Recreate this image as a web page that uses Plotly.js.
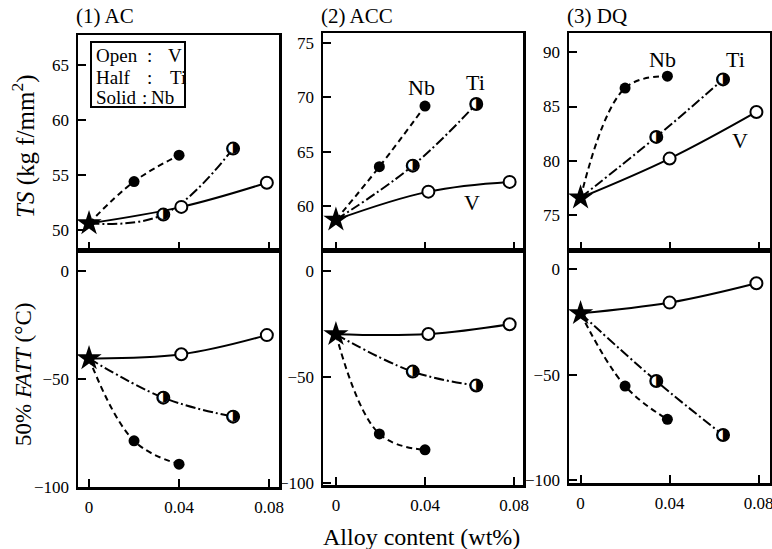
<!DOCTYPE html>
<html><head><meta charset="utf-8">
<script src="https://cdn.plot.ly/plotly-3.0.1.min.js"></script>
<style>html,body{margin:0;padding:0;background:#fff}#chart{width:772px;height:549px}</style>
</head><body><div id="chart"></div>
<script>
// ---- data ----
const processes = ["(1) AC", "(2) ACC", "(3) DQ"];
const alloys = ["V", "Ti", "Nb"];

// alloy content (wt%), first point = base steel
const xAC_V  = [0, 0.041, 0.079];
const xAC_Ti = [0, 0.033, 0.064];
const xAC_Nb = [0, 0.020, 0.040];
const xACC_V  = [0, 0.0415, 0.078];
const xACC_Ti = [0, 0.0345, 0.063];
const xACC_Nb = [0, 0.0195, 0.040];
const xDQ_V  = [0, 0.040, 0.079];
const xDQ_Ti = [0, 0.034, 0.064];
const xDQ_Nb = [0, 0.020, 0.039];

// TS (kgf/mm2)
const tsAC_V  = [50.6, 52.1, 54.3];
const tsAC_Ti = [50.6, 51.4, 57.4];
const tsAC_Nb = [50.6, 54.4, 56.8];
const tsACC_V  = [58.7, 61.3, 62.2];
const tsACC_Ti = [58.7, 63.7, 69.4];
const tsACC_Nb = [58.7, 63.6, 69.2];
const tsDQ_V  = [76.6, 80.2, 84.5];
const tsDQ_Ti = [76.6, 82.2, 87.5];
const tsDQ_Nb = [76.6, 86.7, 87.8];

// 50% FATT (°C)
const fattAC_V  = [-40.5, -38.6, -29.7];
const fattAC_Ti = [-40.5, -58.7, -67.5];
const fattAC_Nb = [-40.5, -78.7, -89.5];
const fattACC_V  = [-30.0, -29.9, -25.3];
const fattACC_Ti = [-30.0, -47.6, -54.2];
const fattACC_Nb = [-30.0, -77.0, -84.5];
const fattDQ_V  = [-20.9, -15.8, -6.6];
const fattDQ_Ti = [-20.9, -53.0, -78.6];
const fattDQ_Nb = [-20.9, -55.4, -71.2];

// tick labels
const xTickVals = [0, 0.04, 0.08];
const xTickText = ["0", "0.04", "0.08"];
const tsTicks = [[50, 55, 60, 65], [60, 65, 70, 75], [75, 80, 85, 90]];
const fattTicks = [0, -50, -100];
const fattTickText = ["0", "\u221250", "\u2212100"];

// legend key text
const keyWords = ["Open", "Half", "Solid"];
const keyAlloys = ["V", "Ti", "Nb"];

// ---- assemble ----
const X = [
  {V: xAC_V, Ti: xAC_Ti, Nb: xAC_Nb},
  {V: xACC_V, Ti: xACC_Ti, Nb: xACC_Nb},
  {V: xDQ_V, Ti: xDQ_Ti, Nb: xDQ_Nb}
];
const TS = [
  {V: tsAC_V, Ti: tsAC_Ti, Nb: tsAC_Nb},
  {V: tsACC_V, Ti: tsACC_Ti, Nb: tsACC_Nb},
  {V: tsDQ_V, Ti: tsDQ_Ti, Nb: tsDQ_Nb}
];
const FATT = [
  {V: fattAC_V, Ti: fattAC_Ti, Nb: fattAC_Nb},
  {V: fattACC_V, Ti: fattACC_Ti, Nb: fattACC_Nb},
  {V: fattDQ_V, Ti: fattDQ_Ti, Nb: fattDQ_Nb}
];

const W = 772, H = 549;
const FONT = "Liberation Serif, Times New Roman, DejaVu Serif, serif";
const dashes = {V: "solid", Ti: "10px,3px,2px,3px", Nb: "6px,4px"};

// layout geometry (px)
const colX = [[78, 279], [323, 523], [569, 770]];
const topY = [[35, 250], [33, 250], [33, 250]];
const botY = [[250, 487], [250, 485], [250, 483]];
const xRanges = [[-0.0049, 0.0844], [-0.0058, 0.084], [-0.0052, 0.0851]];
const tsRanges = [[48.18, 67.73], [55.91, 75.95], [71.77, 91.78]];
const fattRanges = [[-100.1, 9.74], [-101.1, 9.76], [-101.4, 9.16]];

const traces = [];
const layout = {
  width: W, height: H, margin: {l: 0, r: 0, t: 0, b: 0},
  paper_bgcolor: "#fff", plot_bgcolor: "#fff", showlegend: false,
  font: {family: FONT, color: "#000"},
  annotations: [], shapes: []
};

function axBase() {
  return {showline: true, mirror: true, linecolor: "#000", linewidth: 2.5,
    ticks: "inside", ticklen: 8, tickwidth: 2, tickcolor: "#000",
    showgrid: false, zeroline: false, fixedrange: true, ticklabeloverflow: "allow",
    tickfont: {family: FONT, size: 17, color: "#000"}};
}

function addSeries(xa, ya, x, y) {
  alloys.forEach(a => {
    traces.push({x: x[a], y: y[a], xaxis: xa, yaxis: ya, mode: "lines", hoverinfo: "skip",
      line: {color: "#000", width: 2, dash: dashes[a], shape: "spline", smoothing: 1.1}});
  });
  const xs = a => x[a].slice(1), ys = a => y[a].slice(1);
  traces.push({x: xs("V"), y: ys("V"), xaxis: xa, yaxis: ya, mode: "markers",
    marker: {symbol: "circle", size: 12, color: "#fff", line: {color: "#000", width: 2}}});
  traces.push({x: xs("Nb"), y: ys("Nb"), xaxis: xa, yaxis: ya, mode: "markers",
    marker: {symbol: "circle", size: 11, color: "#000"}});
  traces.push({x: xs("Ti"), y: ys("Ti"), xaxis: xa, yaxis: ya, mode: "markers",
    marker: {symbol: "circle", size: 12, color: "#fff", line: {color: "#000", width: 2}}});
  traces.push({x: xs("Ti"), y: ys("Ti"), xaxis: xa, yaxis: ya, mode: "text",
    text: xs("Ti").map(() => "\u25D1"), textposition: "middle center",
    textfont: {family: "DejaVu Sans", size: 15, color: "#000"}});
  traces.push({x: [x.V[0]], y: [y.V[0]], xaxis: xa, yaxis: ya, mode: "markers",
    marker: {symbol: "star", size: 19, color: "#000"}});
}

for (let i = 0; i < 3; i++) {
  const tIdx = i + 1, bIdx = i + 4;
  const tx = tIdx === 1 ? "x" : "x" + tIdx, ty = tIdx === 1 ? "y" : "y" + tIdx;
  const bx = "x" + bIdx, by = "y" + bIdx;
  const xd = [colX[i][0] / W, colX[i][1] / W];
  layout["xaxis" + (tIdx === 1 ? "" : tIdx)] = Object.assign(axBase(), {
    domain: xd, anchor: ty, range: xRanges[i], tickvals: xTickVals, showticklabels: false});
  layout["yaxis" + (tIdx === 1 ? "" : tIdx)] = Object.assign(axBase(), {
    domain: [1 - topY[i][1] / H, 1 - topY[i][0] / H], anchor: tx, range: tsRanges[i],
    tickvals: tsTicks[i], ticklabelstandoff: 3});
  layout["xaxis" + bIdx] = Object.assign(axBase(), {
    domain: xd, anchor: by, range: xRanges[i], tickvals: xTickVals, ticktext: xTickText,
    ticklabelstandoff: 3});
  layout["yaxis" + bIdx] = Object.assign(axBase(), {
    domain: [1 - botY[i][1] / H, 1 - botY[i][0] / H], anchor: bx, range: fattRanges[i],
    tickvals: fattTicks, ticktext: fattTickText, ticklabelstandoff: 3});
  addSeries(tx, ty, X[i], TS[i]);
  addSeries(bx, by, X[i], FATT[i]);
  layout.annotations.push({text: processes[i], xref: "paper", yref: "paper",
    x: (colX[i][0] - 4) / W, y: 1 - 16 / H, xanchor: "left", yanchor: "middle",
    showarrow: false, font: {family: FONT, size: 21, color: "#000"}});
}

const lbl = (t, xr, yr, x, y) => ({text: t, xref: xr, yref: yr, x: x, y: y, showarrow: false,
  xanchor: "center", yanchor: "middle", font: {family: FONT, size: 22, color: "#000"}});
layout.annotations.push(lbl("Nb", "x2", "y2", 0.0383, 70.9));
layout.annotations.push(lbl("Ti", "x2", "y2", 0.0628, 71.4));
layout.annotations.push(lbl("V", "x2", "y2", 0.0611, 60.25));
layout.annotations.push(lbl("Nb", "x3", "y3", 0.0369, 89.3));
layout.annotations.push(lbl("Ti", "x3", "y3", 0.0697, 89.3));
layout.annotations.push(lbl("V", "x3", "y3", 0.0714, 81.9));

// legend key box (panel 1)
layout.shapes.push({type: "rect", xref: "paper", yref: "paper",
  x0: 91 / W, x1: 185 / W, y0: 1 - 107 / H, y1: 1 - 42 / H,
  line: {color: "#000", width: 2}, fillcolor: "#fff", layer: "above"});
const keyRowY = [56, 77, 97];
const keyColonX = [149, 149, 144];
const keyValX = [166, 168, 149];
for (let k = 0; k < 3; k++) {
  const yy = 1 - keyRowY[k] / H;
  const f = {family: FONT, size: 19, color: "#000"};
  layout.annotations.push({text: keyWords[k], xref: "paper", yref: "paper", x: 94 / W, y: yy,
    xanchor: "left", yanchor: "middle", showarrow: false, font: f});
  layout.annotations.push({text: ":", xref: "paper", yref: "paper", x: keyColonX[k] / W, y: yy,
    xanchor: "center", yanchor: "middle", showarrow: false, font: f});
  layout.annotations.push({text: keyAlloys[k], xref: "paper", yref: "paper", x: keyValX[k] / W, y: yy,
    xanchor: "left", yanchor: "middle", showarrow: false, font: f});
}

layout.annotations.push({text: "<i>TS</i> (kg f/mm<sup>2</sup>)", xref: "paper", yref: "paper",
  x: 23 / W, y: 1 - 147 / H, textangle: -90, showarrow: false, xanchor: "center", yanchor: "middle",
  font: {family: FONT, size: 25, color: "#000"}});
layout.annotations.push({text: "50% <i>FATT</i> (\u00B0C)", xref: "paper", yref: "paper",
  x: 23 / W, y: 1 - 375 / H, textangle: -90, showarrow: false, xanchor: "center", yanchor: "middle",
  font: {family: FONT, size: 23, color: "#000"}});
layout.annotations.push({text: "Alloy content (wt%)", xref: "paper", yref: "paper",
  x: 421 / W, y: 1 - 537 / H, showarrow: false, xanchor: "center", yanchor: "middle",
  font: {family: FONT, size: 24, color: "#000"}});

Plotly.newPlot("chart", traces, layout, {displayModeBar: false, staticPlot: true});
</script></body></html>
